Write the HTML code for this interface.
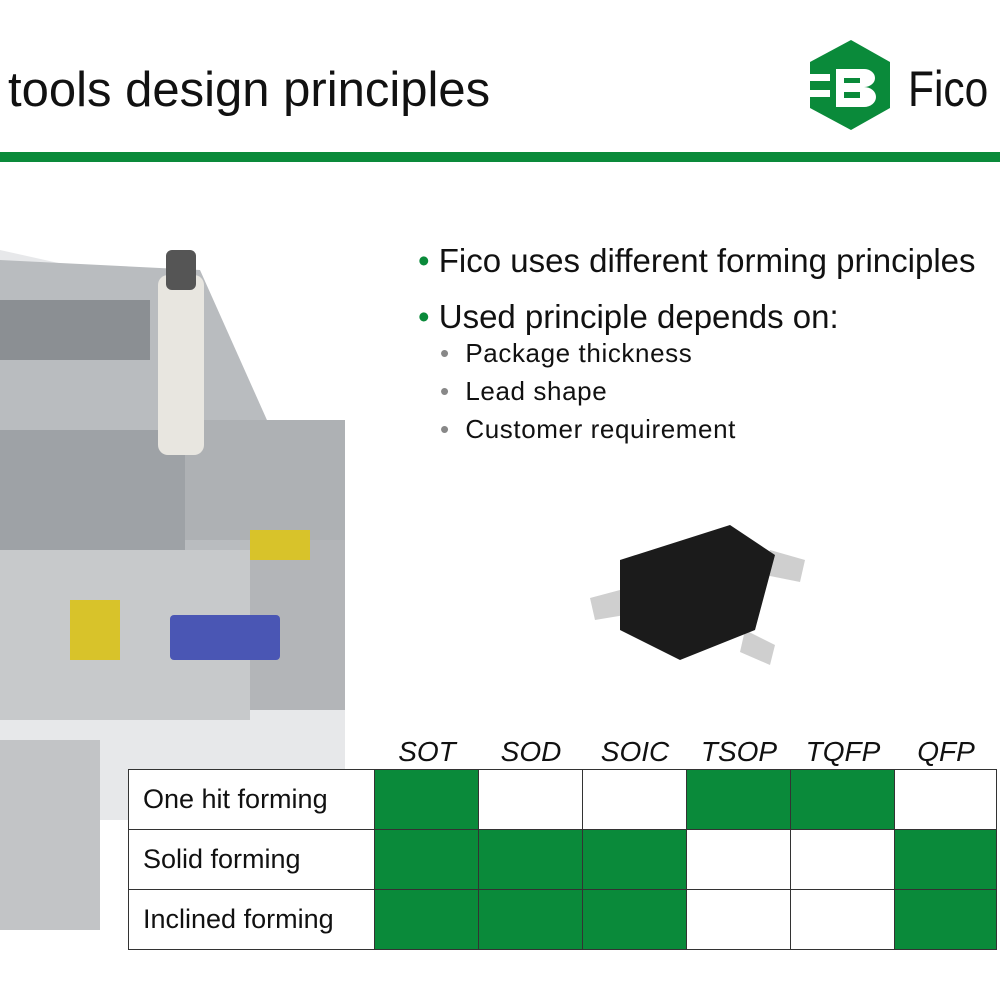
<!DOCTYPE html>
<html><head><style>
body{margin:0;width:1000px;height:1000px;background:#fff;position:relative;overflow:hidden;font-family:"Liberation Sans",sans-serif}
.a{position:absolute}
.t{color:#111}
td{border:1px solid #333;padding:0}
</style></head><body>
<div class="a t" style="left:8px;top:62px;font-size:49px;">tools design principles</div>
<svg class="a" style="left:806px;top:38px" width="90" height="94" viewBox="0 0 90 94">
<polygon points="45,2 84,24 84,70 45,92 4,70 4,24" fill="#0a8a3a"/>
<rect x="4" y="36" width="20" height="7" fill="#fff"/><rect x="4" y="52" width="20" height="7" fill="#fff"/>
<path d="M30 31 H58 a11 9 0 0 1 0 18 a12 10 0 0 1 0 20 H30Z" fill="#fff"/>
<rect x="38" y="40" width="16" height="5" fill="#0a8a3a"/><rect x="38" y="54" width="16" height="6" fill="#0a8a3a"/>
</svg>
<div class="a" style="left:908px;top:60px;font-size:50px;color:#111;transform:scaleX(0.85);transform-origin:left">Fico</div>
<div class="a" style="left:0;top:152px;width:1000px;height:10px;background:#0a8a3a"></div>
<svg class="a" style="left:0;top:190px" width="360" height="760">
<polygon points="0,60 180,100 345,405 345,630 0,630" fill="#e7e8ea"/>
<polygon points="0,70 200,80 345,405 240,440 0,350" fill="#b9bcbf"/>
<rect x="0" y="240" width="185" height="120" fill="#9ea2a6"/>
<rect x="185" y="230" width="160" height="120" fill="#aeb1b4"/>
<rect x="0" y="360" width="250" height="170" fill="#c7c9cb"/>
<rect x="250" y="350" width="95" height="170" fill="#b3b5b8"/>
<rect x="170" y="425" width="110" height="45" rx="4" fill="#4a56b4"/>
<rect x="70" y="410" width="50" height="60" fill="#d8c32a"/>
<rect x="250" y="340" width="60" height="30" fill="#d8c32a"/>
<rect x="0" y="550" width="100" height="190" fill="#c2c4c6"/>
<rect x="158" y="85" width="46" height="180" rx="10" fill="#e8e6e0"/>
<rect x="166" y="60" width="30" height="40" rx="6" fill="#555"/>
<rect x="0" y="110" width="150" height="60" fill="#8b8f93"/>
</svg>
<div class="a" style="left:418px;top:233px;font-size:33px;color:#111;line-height:56px">
<div><span style="color:#0a8a3a">•</span> Fico uses different forming principles</div>
<div><span style="color:#0a8a3a">•</span> Used principle depends on:</div></div>
<div class="a" style="left:440px;top:334px;font-size:26px;color:#111;line-height:38px;letter-spacing:0.6px">
<div><span style="color:#888">•</span>&nbsp; Package thickness</div>
<div><span style="color:#888">•</span>&nbsp; Lead shape</div>
<div><span style="color:#888">•</span>&nbsp; Customer requirement</div></div>
<svg class="a" style="left:580px;top:520px" width="240" height="160">
<polygon points="10,78 40,70 45,95 15,100" fill="#cfcfcf"/>
<polygon points="190,30 225,40 220,62 185,55" fill="#cfcfcf"/>
<polygon points="165,110 195,125 190,145 160,132" fill="#cfcfcf"/>
<polygon points="40,40 150,5 195,35 175,110 100,140 40,110" fill="#1b1b1b"/>
</svg>
<div class="a" style="left:375px;top:736px;width:622px;display:flex;font-size:28px;font-style:italic;color:#111">
<div style="width:104px;text-align:center">SOT</div><div style="width:104px;text-align:center">SOD</div><div style="width:104px;text-align:center">SOIC</div><div style="width:104px;text-align:center">TSOP</div><div style="width:104px;text-align:center">TQFP</div><div style="width:102px;text-align:center">QFP</div></div>
<table class="a" style="left:128px;top:769px;border-collapse:collapse;font-size:27px;color:#111;background:#fff">
<tr style="height:60px"><td style="width:246px;padding-left:14px;box-sizing:border-box">One hit forming</td><td style="width:103px;background:#0a8a3a"></td><td style="width:103px"></td><td style="width:103px"></td><td style="width:103px;background:#0a8a3a"></td><td style="width:103px;background:#0a8a3a"></td><td style="width:101px"></td></tr>
<tr style="height:60px"><td style="padding-left:14px">Solid forming</td><td style="background:#0a8a3a"></td><td style="background:#0a8a3a"></td><td style="background:#0a8a3a"></td><td></td><td></td><td style="background:#0a8a3a"></td></tr>
<tr style="height:60px"><td style="padding-left:14px">Inclined forming</td><td style="background:#0a8a3a"></td><td style="background:#0a8a3a"></td><td style="background:#0a8a3a"></td><td></td><td></td><td style="background:#0a8a3a"></td></tr>
</table>
</body></html>
